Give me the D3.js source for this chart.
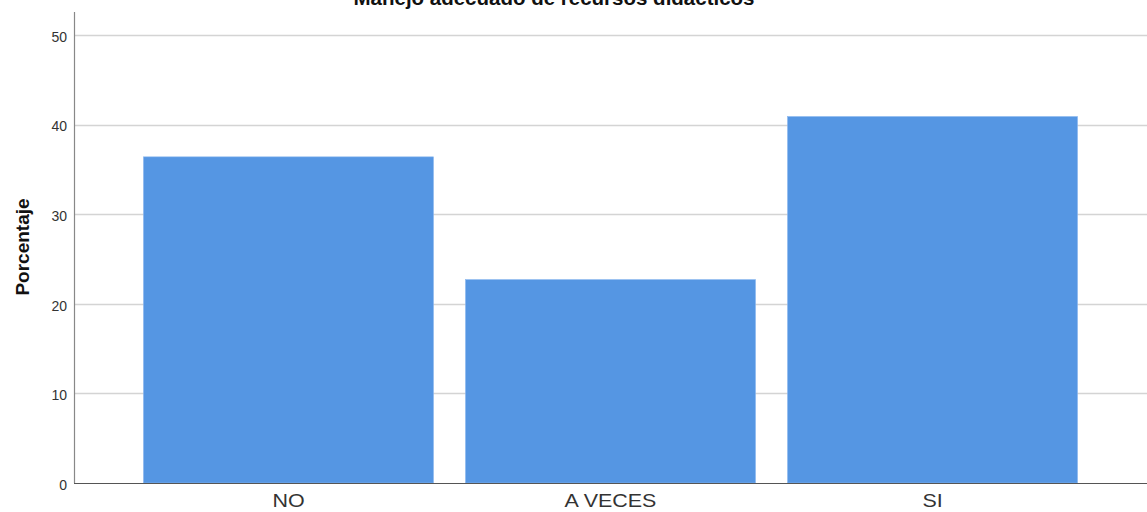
<!DOCTYPE html>
<html>
<head>
<meta charset="utf-8">
<script src="https://cdn.jsdelivr.net/npm/d3@7"></script>
<style>
  body { margin: 0; background: #fff; }
  svg { display: block; font-family: "Liberation Sans", Arial, sans-serif; }
</style>
</head>
<body>
<div id="chart"></div>
<script>
var categories = ['NO', 'A VECES', 'SI'];
var values = [36.4, 22.7, 40.9];
var yTicks = [0, 10, 20, 30, 40, 50];
var title = 'Manejo adecuado de recursos didácticos';
var yLabel = 'Porcentaje';

var width = 1147, height = 512;
var margins = { left: 74, right: 0, top: 35, bottom: 29 };

var svg = d3.select('#chart').append('svg')
    .attr('width', width)
    .attr('height', height);

var x = d3.scaleBand()
    .domain(categories)
    .range([margins.left, width - margins.right])
    .paddingInner(0.0994)
    .paddingOuter(0.2157);

var y = d3.scaleLinear()
    .domain([0, 50])
    .range([height - margins.bottom, margins.top]);

// gridlines
svg.append('g')
    .selectAll('line')
    .data(yTicks.filter(function(d) { return d > 0; }))
    .join('line')
    .attr('x1', margins.left)
    .attr('x2', width)
    .attr('y1', function(d) { return Math.round(y(d)) + 0.5; })
    .attr('y2', function(d) { return Math.round(y(d)) + 0.5; })
    .attr('stroke', '#d4d4d4')
    .attr('stroke-width', 1.5);

// bars
svg.append('g')
    .selectAll('rect')
    .data(values)
    .join('rect')
    .attr('x', function(d, i) { return x(categories[i]); })
    .attr('width', x.bandwidth())
    .attr('y', function(d) { return y(d); })
    .attr('height', function(d) { return y(0) - y(d); })
    .attr('fill', '#5596e3')
    .attr('stroke', '#8ab6ee')
    .attr('stroke-width', 0.6);

// y axis
var yAxis = svg.append('g')
    .attr('transform', 'translate(' + margins.left + ',0)')
    .call(d3.axisLeft(y).tickValues(yTicks).tickSize(0).tickPadding(7));
yAxis.select('.domain').remove();
yAxis.selectAll('text')
    .attr('font-size', 14)
    .attr('dy', '0.45em')
    .attr('fill', '#333')
    .attr('font-family', '"Liberation Sans", Arial, sans-serif');

svg.append('line')
    .attr('x1', margins.left + 0.5).attr('x2', margins.left + 0.5)
    .attr('y1', 12).attr('y2', y(0))
    .attr('stroke', '#888').attr('stroke-width', 1.2);

// x axis - labels are drawn a bit wider than normal, like the original
var xAxis = svg.append('g')
    .attr('transform', 'translate(0,' + y(0) + ')')
    .call(d3.axisBottom(x).tickSize(0).tickPadding(11));
xAxis.select('.domain').remove();
xAxis.selectAll('text')
    .attr('font-size', 18.5)
    .attr('fill', '#333')
    .attr('font-family', '"Liberation Sans", Arial, sans-serif')
    .each(function() {
        var w = this.getComputedTextLength();
        d3.select(this)
            .attr('textLength', w * 1.16)
            .attr('lengthAdjust', 'spacingAndGlyphs');
    });

svg.append('line')
    .attr('x1', margins.left).attr('x2', width)
    .attr('y1', y(0) + 0.5).attr('y2', y(0) + 0.5)
    .attr('stroke', '#555').attr('stroke-width', 1.2);

// title
svg.append('text')
    .attr('x', 554)
    .attr('y', 5)
    .attr('text-anchor', 'middle')
    .attr('font-size', 20.5)
    .attr('font-weight', 'bold')
    .attr('fill', '#111')
    .text(title);

// y label
svg.append('text')
    .attr('transform', 'translate(29,' + 247 + ') rotate(-90)')
    .attr('text-anchor', 'middle')
    .attr('font-size', 19)
    .attr('font-weight', 'bold')
    .attr('fill', '#111')
    .text(yLabel);
</script>
</body>
</html>
